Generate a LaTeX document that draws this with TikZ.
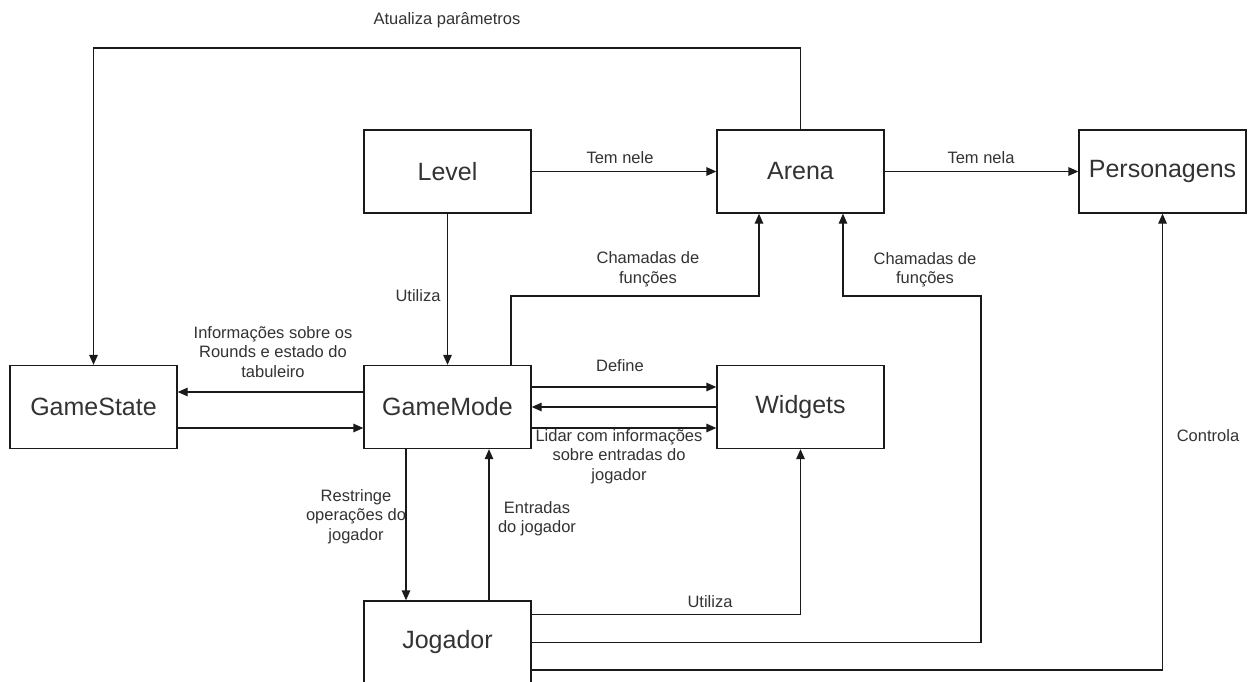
\documentclass[tikz,border=0pt]{standalone}
\usepackage{fontspec}
\setmainfont{Liberation Sans}
\usetikzlibrary{arrows.meta,calc}
\definecolor{ink}{HTML}{1A1A1A}
\definecolor{txt}{HTML}{333333}
\tikzset{
  box/.style={draw=ink, line width=1.3pt, minimum width=167pt, minimum height=83pt,
    inner sep=0pt, font=\fontsize{25}{29}\selectfont, text=txt},
  conn/.style={draw=ink, line width=1.3pt, -{Triangle[length=10pt,width=8.5pt]}},
  lbl/.style={font=\fontsize{16.5}{19.5}\selectfont, align=center, text=txt, inner sep=0pt},
}
\begin{document}
\begin{tikzpicture}[x=1pt,y=-1pt]
\useasboundingbox (0,0) rectangle (1249,682);
\fill[white] (0,0) rectangle (1249,682);

% blocks
\node[box] (level)  at (447.5,171.5)  {Level};
\node[box] (arena)  at (800.5,171.5)  {Arena};
\node[box] (pers)   at (1162.5,171.5) {Personagens};
\node[box] (gstate) at (93.5,407)     {GameState};
\node[box] (gmode)  at (447.5,407)    {GameMode};
\node[box] (widg)   at (800.5,407)    {Widgets};
\node[box] (jog)    at (447.5,642.5)  {Jogador};

% waypoints of the routed connectors
\coordinate (up2)  at (93.5,48);
\coordinate (cm1)  at ($(gmode.north)+(63.5,0)$);
\coordinate (cm2)  at (759,296);
\coordinate (cj1)  at (981,296);
\coordinate (cj2)  at (843,296);

% Arena -> GameState
\draw[conn] (arena.north) |- (up2) -- (gstate.north);
\node[lbl] (latual) at (447,20) {Atualiza parâmetros};

% Level -> Arena -> Personagens
\draw[conn] (level.east) -- (arena.west);
\node[lbl] (ltem1) at (620,158) {Tem nele};
\draw[conn] (arena.east) -- (pers.west);
\node[lbl] (ltem2) at (981,158) {Tem nela};

% Level -> GameMode
\draw[conn] (level.south) -- (gmode.north);
\node[lbl] (lutil1) at (418,296) {Utiliza};

% GameMode -> Arena
\draw[conn] (cm1) |- (cm2) -- (cm2 |- arena.south);
\node[lbl] (lcham1) at (648,269.5) {Chamadas de\\funções};

% Jogador -> Arena
\draw[conn] (jog.east) -| (cj1) -- (cj2) -- (cj2 |- arena.south);
\node[lbl] (lcham2) at (925,270) {Chamadas de\\funções};

% Jogador -> Personagens
\draw[conn] ([yshift=-27.5pt]jog.east) -| (pers.south);
\node[lbl] (lctrl) at (1208,436) {Controla};

% Jogador -> Widgets
\draw[conn] ([yshift=28pt]jog.east) -| (widg.south);
\node[lbl] (lutil2) at (710,602) {Utiliza};

% GameMode <-> GameState
\draw[conn] ([yshift=15pt]gmode.west) -- ([yshift=15pt]gstate.east);
\draw[conn] ([yshift=-21pt]gstate.east) -- ([yshift=-21pt]gmode.west);
\node[lbl] (linfo) at (273,352) {Informações sobre os\\Rounds e estado do\\tabuleiro};

% GameMode <-> Widgets
\draw[conn] ([yshift=20pt]gmode.east) -- ([yshift=20pt]widg.west);
\node[lbl] (ldef) at (620,366) {Define};
\draw[conn] (widg.west) -- (gmode.east);
\draw[conn] ([yshift=-21pt]gmode.east) -- ([yshift=-21pt]widg.west);
\node[lbl] (llidar) at (619,456.5) {Lidar com informações\\sobre entradas do\\jogador};

% GameMode <-> Jogador
\draw[conn] ([xshift=-41.5pt]gmode.south) -- ([xshift=-41.5pt]jog.north);
\node[lbl] (lrest) at (356,516.5) {Restringe\\operações do\\jogador};
\draw[conn] ([xshift=41.5pt]jog.north) -- ([xshift=41.5pt]gmode.south);
\node[lbl] (lentr) at (537,518.5) {Entradas\\do jogador};
\end{tikzpicture}
\end{document}
